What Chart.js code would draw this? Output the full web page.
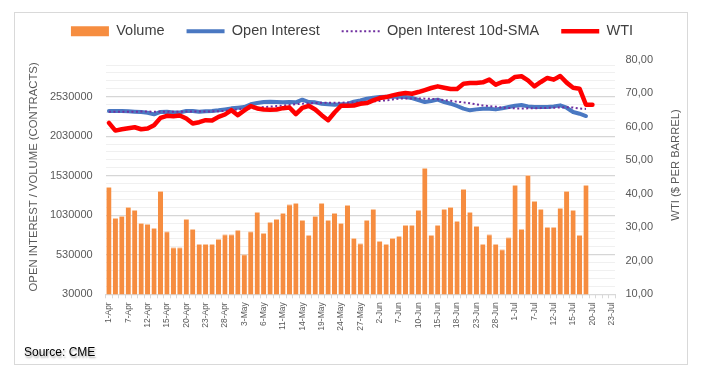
<!DOCTYPE html>
<html>
<head>
<meta charset="utf-8">
<script src="https://cdn.jsdelivr.net/npm/chart.js@4.4.1/dist/chart.umd.min.js"></script>
<style>
html,body{margin:0;padding:0;background:#fff;}
#wrap{position:relative;width:704px;height:386px;overflow:hidden;background:#fff;}
canvas{position:absolute;left:0;top:0;}
#frame{position:absolute;left:14px;top:12px;width:674px;height:353px;border:1px solid #d9d9d9;box-sizing:border-box;pointer-events:none;}
#source{position:absolute;left:24px;top:345px;line-height:14px;font-size:12px;font-family:"Liberation Sans",Arial,sans-serif;color:#000;text-shadow:1px 2px 2px rgba(0,0,0,0.35);}
</style>
</head>
<body>
<div id="wrap">
  <canvas id="c" width="704" height="386"></canvas>
  <div id="frame"></div>
  <div id="source">Source: CME</div>
</div>
<script>
// ---- categories (trading days) ----
const categories = [
  '1-Apr','5-Apr','6-Apr','7-Apr','8-Apr','9-Apr','12-Apr','13-Apr','14-Apr','15-Apr','16-Apr',
  '19-Apr','20-Apr','21-Apr','22-Apr','23-Apr','26-Apr','27-Apr','28-Apr','29-Apr','30-Apr',
  '3-May','4-May','5-May','6-May','7-May','10-May','11-May','12-May','13-May','14-May',
  '17-May','18-May','19-May','20-May','21-May','24-May','25-May','26-May','27-May','28-May',
  '1-Jun','2-Jun','3-Jun','4-Jun','7-Jun','8-Jun','9-Jun','10-Jun','11-Jun','14-Jun','15-Jun',
  '16-Jun','17-Jun','18-Jun','21-Jun','22-Jun','23-Jun','24-Jun','25-Jun','28-Jun','29-Jun','30-Jun',
  '1-Jul','2-Jul','6-Jul','7-Jul','8-Jul','9-Jul','12-Jul','13-Jul','14-Jul','15-Jul','16-Jul',
  '19-Jul','20-Jul','21-Jul','22-Jul','23-Jul'
];

// ---- series ----
const volume = [
  1388000, 994000,1020000,1134000,1096000, 931000, 918000, 868000,1337000, 829000,
   626000, 626000, 982000, 855000, 665000, 665000, 665000, 728000, 791000, 791000,
   842000, 538000, 829000,1071000, 804000, 944000, 982000,1058000,1168000,1185000,
   969000, 779000,1020000,1185000, 969000,1058000, 931000,1159000, 741000, 677000,
   969000,1109000, 703000, 665000, 741000, 766000, 906000, 906000,1096000,1629000,
   779000, 906000,1109000,1134000, 956000,1362000,1071000, 893000, 665000, 791000,
   665000, 601000, 753000,1413000, 855000,1540000,1210000,1109000, 880000, 880000,
  1121000,1337000,1096000, 779000,1413000
];

const openInterest = [
  2348000,2348000,2348000,2344000,2340000,2336000,2327000,2306000,2336000,2340000,
  2331000,2331000,2348000,2348000,2340000,2344000,2348000,2357000,2369000,2382000,
  2390000,2399000,2433000,2450000,2462000,2466000,2462000,2458000,2462000,2458000,
  2492000,2462000,2458000,2441000,2433000,2428000,2433000,2437000,2466000,2483000,
  2505000,2517000,2526000,2530000,2530000,2530000,2526000,2513000,2488000,2462000,
  2475000,2492000,2462000,2441000,2412000,2378000,2357000,2369000,2378000,2378000,
  2369000,2382000,2399000,2416000,2424000,2407000,2399000,2399000,2399000,2407000,
  2420000,2390000,2336000,2314000,2285000
];

const openInterestSma = [
  2340000,2340000,2340000,2340000,2340000,2341000,2341000,2340000,2339000,2339000,
  2339000,2340000,2341000,2341000,2341000,2342000,2344000,2346000,2350000,2360000,
  2370000,2376000,2382000,2390000,2398000,2404000,2411000,2418000,2426000,2434000,
  2441000,2446000,2450000,2453000,2454000,2454000,2454000,2455000,2456000,2460000,
  2465000,2470000,2476000,2484000,2494000,2504000,2508000,2508000,2507000,2505000,
  2502000,2496000,2488000,2478000,2466000,2458000,2446000,2432000,2418000,2410000,
  2403000,2392000,2386000,2382000,2381000,2382000,2383000,2385000,2388000,2390000,
  2393000,2396000,2392000,2380000,2375000
];

const wti = [
  61.1,58.8,59.2,59.5,59.8,59.2,59.4,60.4,62.6,63.2,
  63.1,63.3,62.4,60.9,61.3,61.9,61.8,62.9,63.6,64.9,
  63.4,64.8,66.1,65.4,65.1,65.0,65.1,65.5,65.7,63.7,
  65.6,66.2,65.1,63.4,61.9,64.2,66.2,66.2,66.3,66.8,
  67.0,67.8,68.5,68.8,69.3,69.7,70.0,69.8,70.3,70.9,
  71.5,72.0,71.6,71.2,71.2,72.8,73.0,73.0,73.2,74.0,
  72.5,73.3,73.5,74.8,75.0,73.8,72.0,73.3,74.5,74.0,
  75.1,73.1,71.6,71.3,66.5,66.5
];

// ---- axis ticks / labels ----
const leftMajorTicks = [30000, 530000, 1030000, 1530000, 2030000, 2530000];
const leftMinorStep = 100000;
const leftMin = 30000, leftMax = 3000000;
const rightTicks = [10, 20, 30, 40, 50, 60, 70, 80];
const seriesNames = ['Volume', 'Open Interest', 'Open Interest 10d-SMA', 'WTI'];
const leftAxisTitle = 'OPEN INTEREST / VOLUME (CONTRACTS)';
const rightAxisTitle = 'WTI ($ PER BARREL)';

const SANS = '"Liberation Sans", Arial, sans-serif';
Chart.defaults.font.family = SANS;

const rightTitlePlugin = {
  id: 'rightTitle',
  afterDraw(chart) {
    const ctx = chart.ctx;
    ctx.save();
    ctx.font = '11.2px ' + SANS;
    ctx.fillStyle = '#595959';
    ctx.textAlign = 'center';
    ctx.textBaseline = 'middle';
    ctx.translate(675.5, 165);
    ctx.rotate(-Math.PI / 2);
    ctx.fillText(rightAxisTitle, 0, 0);
    ctx.restore();
  }
};

new Chart(document.getElementById('c'), {
  type: 'bar',
  data: {
    labels: categories,
    datasets: [
      {
        type: 'bar', label: seriesNames[0], data: volume, yAxisID: 'y', order: 4,
        backgroundColor: '#F68D40', borderColor: '#FAC9A3',
        borderWidth: {top: 1, left: 0, right: 0, bottom: 0}, borderSkipped: 'bottom',
        categoryPercentage: 1.0, barPercentage: 0.8
      },
      {
        type: 'line', label: seriesNames[1], data: openInterest, yAxisID: 'y', order: 3,
        borderColor: '#4A78C2', backgroundColor: '#4A78C2', borderWidth: 4,
        pointRadius: 0, tension: 0, borderJoinStyle: 'round', borderCapStyle: 'round'
      },
      {
        type: 'line', label: seriesNames[2], data: openInterestSma, yAxisID: 'y', order: 2,
        borderColor: '#7030A0', backgroundColor: '#7030A0', borderWidth: 2,
        borderDash: [2, 2.5], pointRadius: 0, tension: 0
      },
      {
        type: 'line', label: seriesNames[3], data: wti, yAxisID: 'y2', order: 1,
        borderColor: '#FF0000', backgroundColor: '#FF0000', borderWidth: 4.5,
        pointRadius: 0, tension: 0, borderJoinStyle: 'round', borderCapStyle: 'round'
      }
    ]
  },
  options: {
    responsive: false,
    animation: false,
    devicePixelRatio: 1,
    layout: {padding: {top: 2, left: 0, right: 0, bottom: 0}},
    plugins: {
      tooltip: {enabled: false},
      title: {display: true, text: '', position: 'top', weight: 500, padding: 0, font: {size: 10, lineHeight: 1.1}},
      legend: {
        display: true, position: 'top',
        labels: {
          usePointStyle: true, pointStyleWidth: 38, boxHeight: 10, padding: 22,
          color: '#404040', font: {size: 14.5, family: SANS},
          generateLabels(chart) {
            return chart.data.datasets.map((ds, i) => ({
              text: ds.label,
              datasetIndex: i,
              fillStyle: ds.type === 'bar' ? ds.backgroundColor : ds.borderColor,
              strokeStyle: ds.borderColor,
              lineWidth: ds.type === 'bar' ? 0 : ds.borderWidth,
              lineDash: ds.borderDash || [],
              lineCap: 'butt',
              pointStyle: ds.type === 'bar' ? 'rect' : 'line',
              fontColor: '#404040',
              hidden: false
            }));
          }
        }
      }
    },
    scales: {
      x: {
        type: 'category',
        offset: true,
        grid: {display: true, drawOnChartArea: false, drawTicks: true, tickLength: 4, color: '#D9D9D9', offset: true},
        border: {display: true, color: '#D9D9D9'},
        ticks: {
          autoSkip: false, maxRotation: 90, minRotation: 90, padding: 4,
          color: '#595959', font: {size: 8.5, family: SANS},
          callback(val, idx) { return idx % 3 === 0 ? this.getLabelForValue(val) : ''; }
        },
        afterFit(scale) { scale.height = 91.7; }
      },
      y: {
        type: 'linear', position: 'left', min: leftMin, max: leftMax,
        afterBuildTicks(scale) {
          const t = [];
          for (let v = leftMin; v < leftMax; v += leftMinorStep) t.push({value: v});
          scale.ticks = t;
        },
        afterFit(scale) { scale.width = 105.7; },
        grid: {
          drawTicks: false,
          color(ctx) { return ctx.tick && leftMajorTicks.includes(ctx.tick.value) ? '#D6D6D6' : '#F0F0F0'; },
          lineWidth(ctx) { return ctx.tick && leftMajorTicks.includes(ctx.tick.value) ? 1.3 : 1; }
        },
        border: {display: false},
        ticks: {
          autoSkip: false, padding: 13, color: '#595959', font: {size: 11, family: SANS},
          callback(v) { return leftMajorTicks.includes(v) ? String(v) : ''; }
        },
        title: {display: true, text: leftAxisTitle, color: '#595959', font: {size: 11.3, family: SANS}, padding: {top: 27, bottom: 0}}
      },
      y2: {
        type: 'linear', position: 'right', min: rightTicks[0], max: rightTicks[rightTicks.length - 1],
        afterBuildTicks(scale) { scale.ticks = rightTicks.map(v => ({value: v})); },
        afterFit(scale) { scale.width = 89; },
        grid: {display: false, drawTicks: false},
        border: {display: false},
        ticks: {
          autoSkip: false, padding: 10.5, color: '#595959', font: {size: 11, family: SANS},
          callback(v) { return v.toFixed(2).replace('.', ','); }
        }
      }
    }
  },
  plugins: [rightTitlePlugin]
});
</script>
</body>
</html>
